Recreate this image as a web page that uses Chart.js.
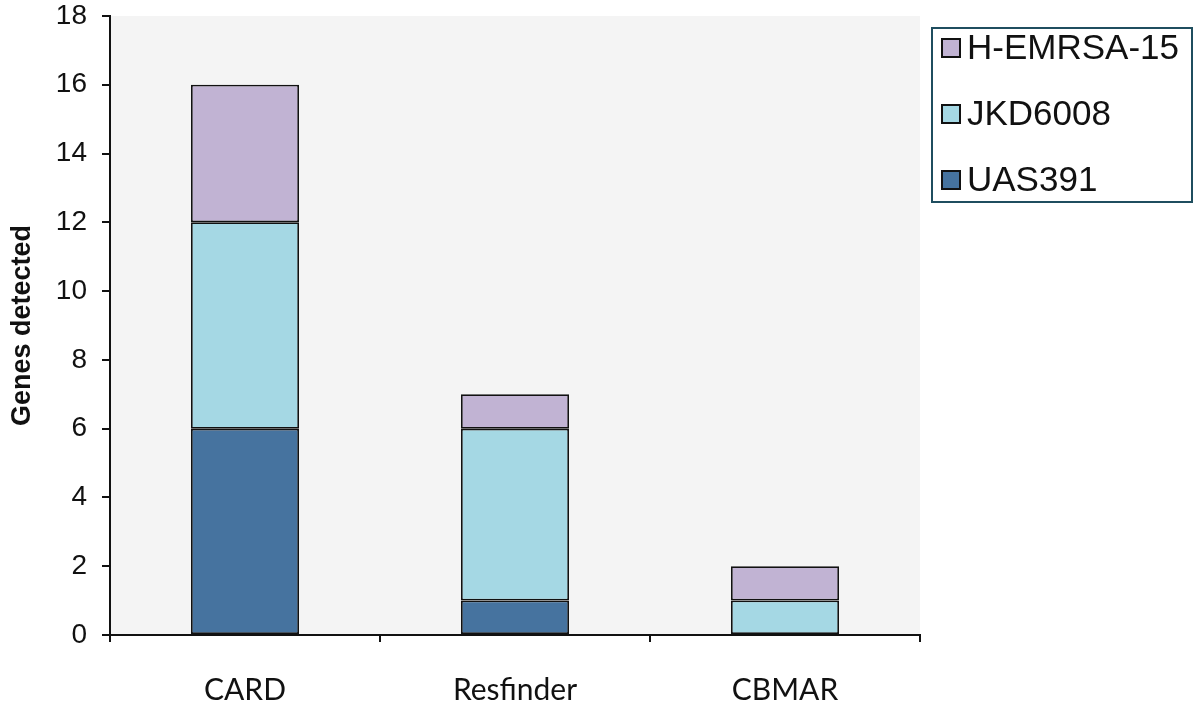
<!DOCTYPE html>
<html lang="en">
  <head>
    <meta charset="UTF-8" />
    <title>Genes detected</title>
    <script src="https://cdn.jsdelivr.net/npm/chart.js"></script>
    <style>
      html, body { margin: 0; padding: 0; background: #fff; }
      #wrap { width: 1193px; height: 704px; }
    </style>
  </head>
  <body>
    <div id="wrap"><canvas id="genes-chart"></canvas></div>

    <script>
      // data
      const databases = ["CARD", "Resfinder", "CBMAR"];
      const uas391 = [6, 1, 0];
      const jkd6008 = [6, 5, 1];
      const hEmrsa15 = [4, 1, 1];
      const yTicks = [0, 2, 4, 6, 8, 10, 12, 14, 16, 18];

      // grey plot background
      const plotBg = {
        id: "plotBg",
        beforeDraw(chart) {
          const { ctx, chartArea: a } = chart;
          ctx.save();
          ctx.fillStyle = "#f4f4f4";
          ctx.fillRect(a.left, a.top, a.right - a.left, a.bottom - a.top);
          ctx.restore();
        },
      };

      // boxed legend to the right, top entry = last dataset
      const boxLegend = {
        id: "boxLegend",
        afterDraw(chart) {
          const { ctx, chartArea: a } = chart;
          const x = a.right + 12, y = a.top + 12, w = 260, h = 174;
          ctx.save();
          ctx.fillStyle = "#fff";
          ctx.fillRect(x, y, w, h);
          ctx.strokeStyle = "#1f4e5f";
          ctx.lineWidth = 2;
          ctx.strokeRect(x, y, w, h);
          const items = chart.data.datasets.slice().reverse();
          ctx.font = "35px 'Liberation Sans', Arial, sans-serif";
          ctx.textBaseline = "middle";
          items.forEach((ds, i) => {
            const cy = y + 20 + i * 66;
            ctx.fillStyle = ds.backgroundColor;
            ctx.fillRect(x + 10, cy - 9, 18, 18);
            ctx.strokeStyle = "#111";
            ctx.lineWidth = 2;
            ctx.strokeRect(x + 10, cy - 9, 18, 18);
            ctx.fillStyle = "#111";
            ctx.fillText(ds.label, x + 35, cy + 1);
          });
          ctx.restore();
        },
      };

      const barStyle = {
        borderColor: "#111",
        borderWidth: (c) => (c.raw ? 1.75 : 0),
        borderSkipped: false,
      };

      new Chart(document.getElementById("genes-chart"), {
        type: "bar",
        data: {
          labels: databases,
          datasets: [
            { label: "UAS391", data: uas391, backgroundColor: "#46739f", ...barStyle },
            { label: "JKD6008", data: jkd6008, backgroundColor: "#a5d8e4", ...barStyle },
            { label: "H-EMRSA-15", data: hEmrsa15, backgroundColor: "#c1b3d3", ...barStyle },
          ],
        },
        options: {
          responsive: true,
          maintainAspectRatio: false,
          animation: false,
          layout: { padding: { top: 16, right: 273, bottom: 0, left: 0 } },
          datasets: { bar: { categoryPercentage: 1, barPercentage: 0.4 } },
          plugins: { legend: { display: false }, tooltip: { enabled: false } },
          scales: {
            x: {
              stacked: true,
              offset: true,
              grid: {
                offset: true,
                drawOnChartArea: false,
                drawTicks: true,
                tickLength: 7,
                color: "#111",
                lineWidth: 2,
              },
              border: { display: true, color: "#111", width: 2 },
              ticks: {
                padding: 30,
                color: "#111",
                font: { family: "Lato, 'Open Sans', sans-serif", size: 30 },
              },
              afterFit(scale) { scale.height = 69; },
            },
            y: {
              stacked: true,
              min: 0,
              max: 18,
              afterBuildTicks(scale) { scale.ticks = yTicks.map((v) => ({ value: v })); },
              grid: {
                drawOnChartArea: false,
                drawTicks: true,
                tickLength: 8,
                color: "#111",
                lineWidth: 2,
              },
              border: { display: true, color: "#111", width: 2 },
              ticks: {
                padding: 15,
                color: "#111",
                font: { family: "'Liberation Sans', Arial, sans-serif", size: 28 },
              },
              title: {
                display: true,
                text: "Genes detected",
                color: "#111",
                padding: { top: 6, bottom: 0 },
                font: { family: "'Liberation Sans', Arial, sans-serif", size: 27, weight: "bold" },
              },
              afterFit(scale) {
                scale.width = 110;
                scale.paddingTop = 0;
                scale.paddingBottom = 0;
              },
            },
          },
        },
        plugins: [plotBg, boxLegend],
      });
    </script>
  </body>
</html>
